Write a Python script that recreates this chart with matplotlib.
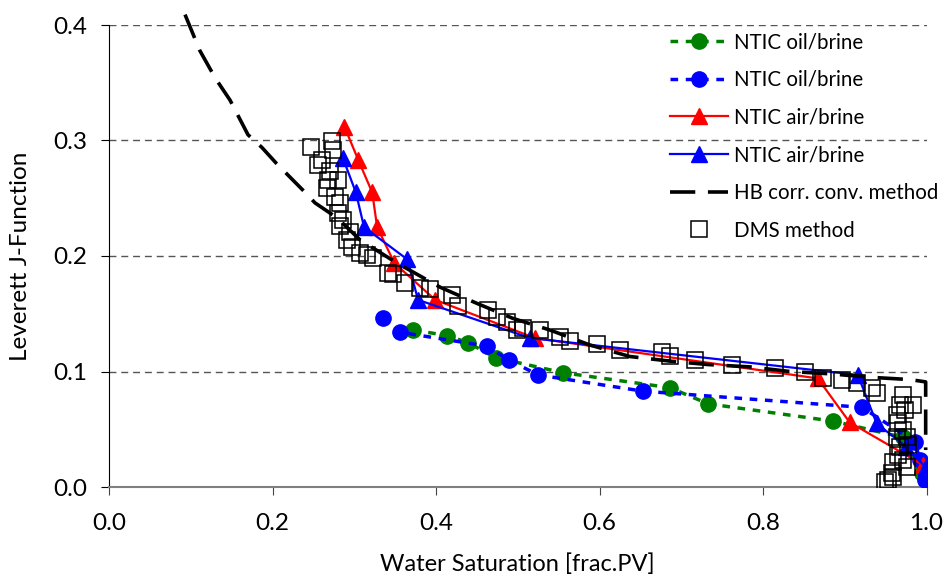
import numpy as np
import matplotlib
matplotlib.use('Agg')
import matplotlib.pyplot as plt

plt.rcParams['font.family'] = ['Lato', 'DejaVu Sans']

# NTIC oil/brine (green)
sw_ob1 = [0.372, 0.414, 0.439, 0.473, 0.555, 0.686, 0.733, 0.886, 0.971, 0.995]
j_ob1 = [0.136, 0.131, 0.125, 0.112, 0.099, 0.086, 0.072, 0.057, 0.043, 0.012]

# NTIC oil/brine (blue)
sw_ob2 = [0.335, 0.356, 0.462, 0.489, 0.525, 0.653, 0.921, 0.986, 0.992, 0.998]
j_ob2 = [0.146, 0.134, 0.122, 0.110, 0.097, 0.083, 0.069, 0.039, 0.023, 0.006]

# NTIC air/brine (red)
sw_ab1 = [0.288, 0.305, 0.322, 0.328, 0.349, 0.399, 0.521, 0.867, 0.906, 0.996]
j_ab1 = [0.312, 0.283, 0.255, 0.225, 0.194, 0.162, 0.129, 0.094, 0.056, 0.019]

# NTIC air/brine (blue)
sw_ab2 = [0.286, 0.302, 0.312, 0.365, 0.378, 0.515, 0.916, 0.939, 0.975, 0.999]
j_ab2 = [0.285, 0.255, 0.225, 0.197, 0.162, 0.129, 0.097, 0.055, 0.035, 0.017]

# HB corr. conv. method
sw_hb = [0.093, 0.111, 0.130, 0.148, 0.170, 0.187, 0.205, 0.240, 0.252, 0.279,
         0.307, 0.352, 0.405, 0.450, 0.494, 0.539, 0.588, 0.637, 0.686, 0.733,
         0.784, 0.833, 0.882, 0.931, 0.980, 0.999, 0.999]
j_hb = [0.409, 0.378, 0.354, 0.335, 0.305, 0.294, 0.280, 0.255, 0.246, 0.233,
        0.214, 0.194, 0.173, 0.159, 0.146, 0.136, 0.123, 0.113, 0.109, 0.106,
        0.104, 0.100, 0.098, 0.095, 0.093, 0.091, 0.032]

# DMS method
sw_dms = [0.247, 0.273, 0.274, 0.261, 0.256, 0.270, 0.268, 0.280, 0.267, 0.276,
          0.283, 0.280, 0.286, 0.283, 0.295, 0.291, 0.297, 0.307, 0.316, 0.323,
          0.341, 0.347, 0.362, 0.380, 0.393, 0.420, 0.427, 0.464, 0.475, 0.487,
          0.499, 0.506, 0.527, 0.552, 0.564, 0.597, 0.625, 0.676, 0.686, 0.717,
          0.762, 0.815, 0.851, 0.873, 0.897, 0.915, 0.933, 0.939, 0.971, 0.983,
          0.968, 0.974, 0.964, 0.965, 0.971, 0.964, 0.976, 0.968, 0.977, 0.965,
          0.971, 0.959, 0.976, 0.958, 0.949, 0.953, 0.959]
j_dms = [0.294, 0.300, 0.292, 0.283, 0.279, 0.274, 0.266, 0.266, 0.259, 0.251,
         0.246, 0.237, 0.231, 0.226, 0.221, 0.214, 0.208, 0.203, 0.201, 0.198,
         0.185, 0.184, 0.177, 0.172, 0.171, 0.166, 0.157, 0.153, 0.147, 0.143,
         0.136, 0.138, 0.136, 0.130, 0.126, 0.124, 0.119, 0.117, 0.113, 0.110,
         0.106, 0.103, 0.100, 0.094, 0.093, 0.090, 0.086, 0.081, 0.080, 0.071,
         0.071, 0.067, 0.062, 0.055, 0.049, 0.043, 0.043, 0.035, 0.036, 0.028,
         0.023, 0.022, 0.017, 0.012, 0.004, 0.006, 0.009]

fig = plt.figure(figsize=(9.44, 5.78), dpi=100)
ax = fig.add_axes([109/944, 1-487/578, 817.5/944, 462/578])

ax.yaxis.grid(True, linestyle=(0, (5, 3.5)), color='#555555', linewidth=1.0)
ax.set_axisbelow(True)

ax.plot(sw_ob1, j_ob1, color='#008000', linestyle=(0, (2.2, 2.2)), linewidth=2.5,
        marker='o', markersize=11, label='NTIC oil/brine', zorder=3)
ax.plot(sw_ob2, j_ob2, color='#0000FF', linestyle=(0, (2.2, 2.2)), linewidth=2.5,
        marker='o', markersize=11, label='NTIC oil/brine', zorder=3)
ax.plot(sw_ab1, j_ab1, color='#FF0000', linewidth=1.6,
        marker='^', markersize=11, label='NTIC air/brine', zorder=4)
ax.plot(sw_ab2, j_ab2, color='#0000FF', linewidth=1.6,
        marker='^', markersize=11, label='NTIC air/brine', zorder=4)
ax.plot(sw_hb, j_hb, color='black', linestyle=(0, (7, 3.5)), linewidth=2.6,
        label='HB corr. conv. method', zorder=5, clip_on=False)
ax.plot(sw_dms, j_dms, linestyle='none', marker='s', markersize=12,
        markerfacecolor='none', markeredgecolor='black', markeredgewidth=1.1,
        label='DMS method', zorder=6)

ax.set_xlim(0, 1.0)
ax.set_ylim(0, 0.4)
ax.set_xticks(np.arange(0, 1.01, 0.2))
ax.set_yticks(np.arange(0, 0.41, 0.1))
ax.xaxis.set_major_formatter(matplotlib.ticker.FormatStrFormatter('%.1f'))
ax.yaxis.set_major_formatter(matplotlib.ticker.FormatStrFormatter('%.1f'))
ax.tick_params(axis='both', direction='out', length=6, labelsize=17.5,
               colors='black')
ax.tick_params(axis='y', pad=10)
ax.tick_params(axis='x', pad=13, color='#444444')

for s in ['top', 'right']:
    ax.spines[s].set_visible(False)
ax.spines['left'].set_color('black')
ax.spines['bottom'].set_color('#808080')
ax.spines['bottom'].set_linewidth(1.5)

ax.set_xlabel('Water Saturation [frac.PV]', fontsize=17, labelpad=14)
ax.set_ylabel('Leverett J-Function', fontsize=17.5, labelpad=16)

leg = ax.legend(loc='upper left', bbox_to_anchor=(662/944, 1-24/578),
                bbox_transform=fig.transFigure, frameon=False, fontsize=14.8,
                handlelength=2.8, handletextpad=0.3, labelspacing=0.86,
                borderaxespad=0)
leg.set_zorder(10)

fig.savefig('out.png', dpi=100, facecolor='white')
